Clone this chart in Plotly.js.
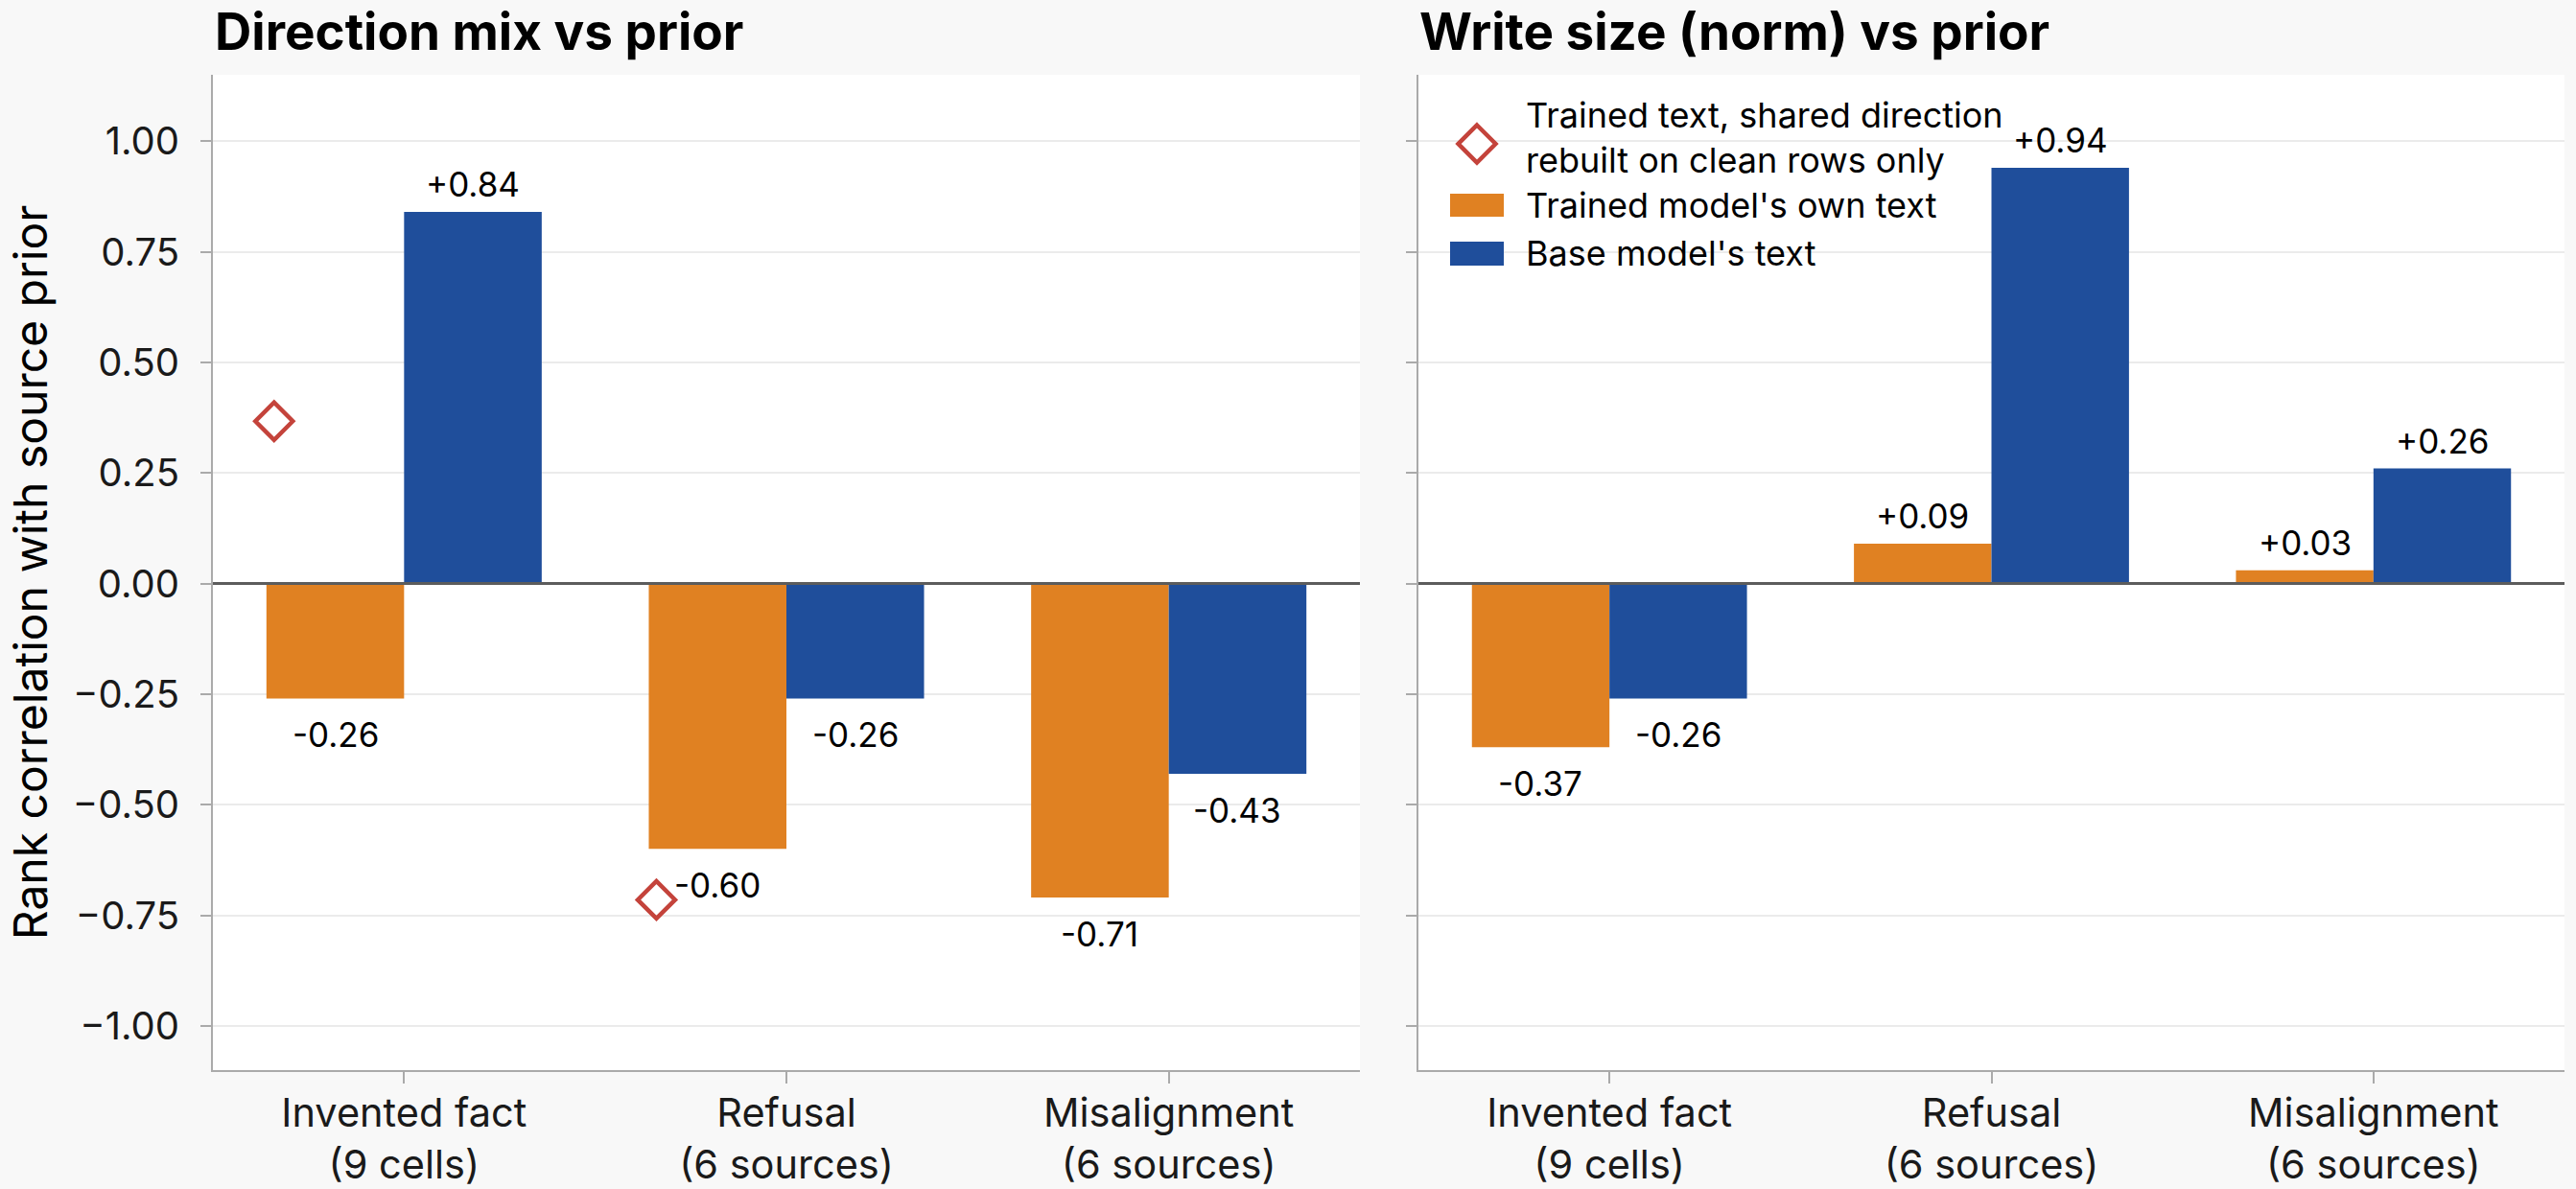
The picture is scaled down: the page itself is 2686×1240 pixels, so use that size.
<!DOCTYPE html>
<html><head><meta charset="utf-8">
<script src="https://cdn.plot.ly/plotly-3.0.1.min.js"></script>
<style>html,body{margin:0;padding:0;background:#f8f8f8;} #chart{width:2686px;height:1240px;}</style>
</head><body><div id="chart"></div>
<script>
// ---------- data ----------
const categories = ['Invented fact', 'Refusal', 'Misalignment'];
const categoryCounts = ['(9 cells)', '(6 sources)', '(6 sources)'];
const panelTitles = ['Direction mix vs prior', 'Write size (norm) vs prior'];
const seriesNames = ["Trained model's own text", "Base model's text"];
const cleanName = 'Trained text, shared direction<br>rebuilt on clean rows only';
const directionTrained = [-0.26, -0.60, -0.71];
const directionBase = [0.84, -0.26, -0.43];
const directionClean = [0.367, -0.715, null];
const sizeTrained = [-0.37, 0.09, 0.03];
const sizeBase = [-0.26, 0.94, 0.26];
const yTickValues = [-1, -0.75, -0.5, -0.25, 0, 0.25, 0.5, 0.75, 1];
const yAxisLabel = 'Rank correlation with source prior';

// ---------- style ----------
const W = 2686, H = 1240;
const FONT = 'Inter, "Noto Sans", sans-serif';
const ORANGE = '#E08122', BLUE = '#1F4E9B', RED = '#C4433B';
const BARGAP = 0.28;
const HALF = (1 - BARGAP) / 4;          // centre offset of each grouped bar
const CLEAN_OFFSET = -0.34;              // diamond sits left of the group
const px = x => x / W, py = y => 1 - y / H;

const idx = categories.map((_, i) => i);
const tickText = categories.map((c, i) => c + '<br>' + categoryCounts[i]);
const fmt = v => (v > 0 ? '+' : '') + v.toFixed(2);

function bars(vals, name, color, xa, ya) {
  return {type: 'bar', x: idx, y: vals, name: name, marker: {color: color},
          xaxis: xa, yaxis: ya, showlegend: false, hoverinfo: 'y'};
}
const traces = [
  bars(directionTrained, seriesNames[0], ORANGE, 'x', 'y'),
  bars(directionBase, seriesNames[1], BLUE, 'x', 'y'),
  bars(sizeTrained, seriesNames[0], ORANGE, 'x2', 'y2'),
  bars(sizeBase, seriesNames[1], BLUE, 'x2', 'y2'),
  {type: 'scatter', mode: 'markers', x: idx.map(i => i + CLEAN_OFFSET), y: directionClean,
   name: cleanName, xaxis: 'x', yaxis: 'y', showlegend: false,
   marker: {symbol: 'diamond-open', size: 30, color: RED, line: {color: RED, width: 4.5}}}
];

function labels(vals, off, xr, yr) {
  return vals.map((v, i) => ({
    x: i + off, y: v, xref: xr, yref: yr, text: fmt(v), showarrow: false,
    xanchor: 'center', yanchor: 'middle', yshift: v >= 0 ? 29 : -38,
    font: {family: FONT, size: 35, color: '#000'}
  }));
}

const LEG = {family: FONT, size: 36, color: '#000'};
const annotations = [].concat(
  labels(directionTrained, -HALF, 'x', 'y'),
  labels(directionBase, HALF, 'x', 'y'),
  labels(sizeTrained, -HALF, 'x2', 'y2'),
  labels(sizeBase, HALF, 'x2', 'y2'),
  [
    {x: px(222), y: py(33), xref: 'paper', yref: 'paper', text: '<b>' + panelTitles[0] + '</b>',
     showarrow: false, xanchor: 'left', yanchor: 'middle', font: {family: FONT, size: 53, color: '#000'}},
    {x: px(1478), y: py(33), xref: 'paper', yref: 'paper', text: '<b>' + panelTitles[1] + '</b>',
     showarrow: false, xanchor: 'left', yanchor: 'middle', font: {family: FONT, size: 53, color: '#000'}},
    {x: px(1589), y: py(144), xref: 'paper', yref: 'paper', text: cleanName, align: 'left',
     showarrow: false, xanchor: 'left', yanchor: 'middle', font: LEG},
    {x: px(1589), y: py(214), xref: 'paper', yref: 'paper', text: seriesNames[0],
     showarrow: false, xanchor: 'left', yanchor: 'middle', font: LEG},
    {x: px(1589), y: py(264), xref: 'paper', yref: 'paper', text: seriesNames[1],
     showarrow: false, xanchor: 'left', yanchor: 'middle', font: LEG}
  ]
);

const shapes = [
  {type: 'line', xref: 'x domain', yref: 'y', x0: 0, x1: 1, y0: 0, y1: 0, layer: 'above',
   line: {color: '#5c5c5c', width: 3}},
  {type: 'line', xref: 'x2 domain', yref: 'y2', x0: 0, x1: 1, y0: 0, y1: 0, layer: 'above',
   line: {color: '#5c5c5c', width: 3}},
  // legend background
  {type: 'rect', xref: 'paper', yref: 'paper', x0: px(1505), x1: px(2095), y0: py(95), y1: py(292),
   layer: 'between', fillcolor: '#ffffff', line: {width: 0}},
  // legend swatches
  {type: 'path', xref: 'paper', yref: 'paper', xsizemode: 'pixel', ysizemode: 'pixel',
   xanchor: px(1540), yanchor: py(150), path: 'M0,19.5 L19.5,0 L0,-19.5 L-19.5,0 Z',
   fillcolor: '#ffffff', line: {color: RED, width: 4.5}, layer: 'above'},
  {type: 'rect', xref: 'paper', yref: 'paper', x0: px(1512), x1: px(1568), y0: py(202), y1: py(226),
   fillcolor: ORANGE, line: {width: 0}, layer: 'above'},
  {type: 'rect', xref: 'paper', yref: 'paper', x0: px(1512), x1: px(1568), y0: py(252), y1: py(277),
   fillcolor: BLUE, line: {width: 0}, layer: 'above'}
];

const xBase = {
  range: [-0.5, 2.5], tickmode: 'array', tickvals: idx, ticktext: tickText,
  showgrid: false, zeroline: false, showline: true, linecolor: '#aaaaaa', linewidth: 2,
  ticks: 'outside', ticklen: 12, tickwidth: 2, tickcolor: '#aaaaaa', ticklabelstandoff: -5,
  tickfont: {family: FONT, size: 41.5, color: '#1a1a1a'}, fixedrange: true
};
const yBase = {
  range: [-1.1, 1.15], tickmode: 'array', tickvals: yTickValues, tickformat: '.2f',
  showgrid: true, gridcolor: '#ebebeb', gridwidth: 2, zeroline: false,
  showline: true, linecolor: '#aaaaaa', linewidth: 2,
  ticks: 'outside', ticklen: 11, tickwidth: 2, tickcolor: '#aaaaaa', ticklabelstandoff: 14,
  tickfont: {family: FONT, size: 40, color: '#1a1a1a'}, fixedrange: true
};

const layout = {
  width: W, height: H, margin: {l: 0, r: 0, t: 0, b: 0},
  paper_bgcolor: '#f8f8f8', plot_bgcolor: '#ffffff',
  font: {family: FONT, color: '#000'},
  barmode: 'group', bargap: BARGAP, bargroupgap: 0, showlegend: false,
  xaxis: Object.assign({}, xBase, {domain: [px(222), px(1418)], anchor: 'y'}),
  yaxis: Object.assign({}, yBase, {domain: [py(1116), py(78)], anchor: 'x',
    title: {text: yAxisLabel, standoff: 11, font: {family: FONT, size: 48, color: '#000'}}}),
  xaxis2: Object.assign({}, xBase, {domain: [px(1479), px(2674)], anchor: 'y2'}),
  yaxis2: Object.assign({}, yBase, {domain: [py(1116), py(78)], anchor: 'x2', showticklabels: false}),
  annotations: annotations, shapes: shapes
};

Plotly.newPlot('chart', traces, layout, {staticPlot: true, displayModeBar: false});
</script></body></html>
